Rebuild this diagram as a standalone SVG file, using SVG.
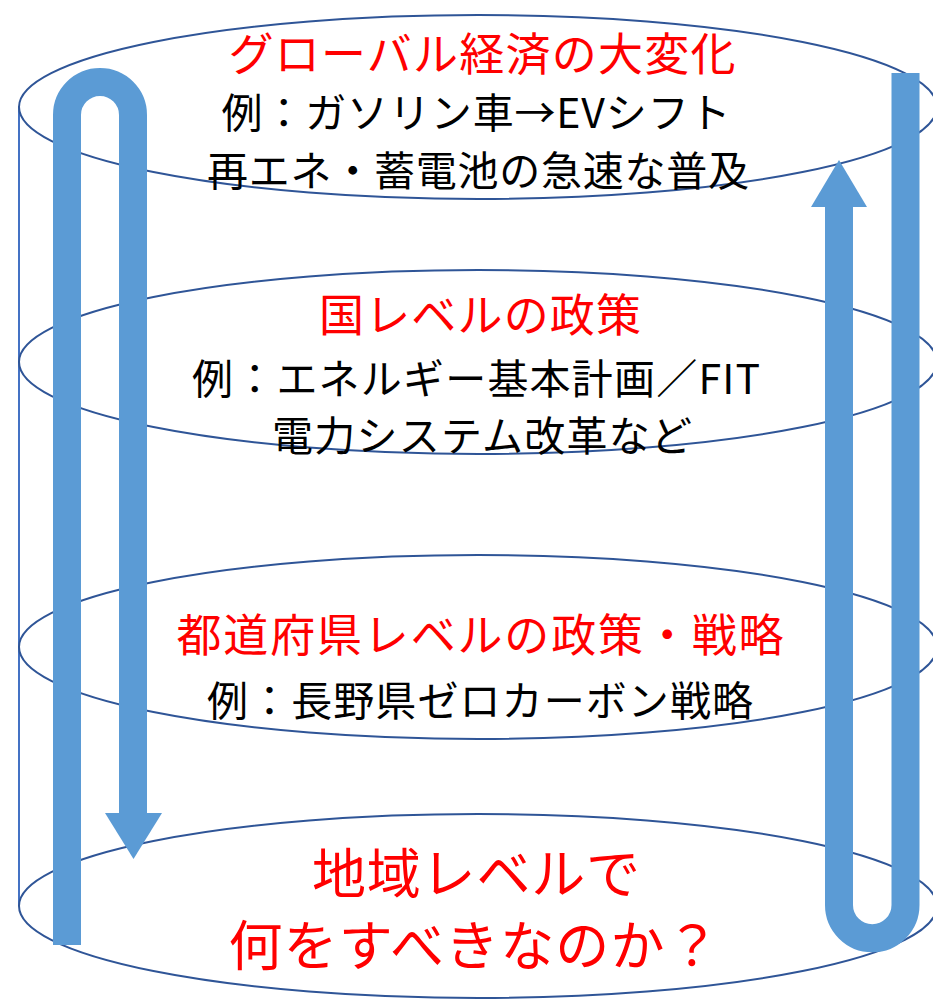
<svg xmlns="http://www.w3.org/2000/svg" width="933" height="1000" viewBox="0 0 933 1000">
<style>
.layer{fill:#ffffff;stroke:#2F5597;stroke-width:2}
.side{stroke:#4472C4;stroke-width:2;fill:none}
.t{font-family:"Noto Sans CJK JP","Noto Sans CJK SC",sans-serif;text-anchor:middle}
.red{fill:#FF0000;font-size:45px}
.blk{fill:#000000;font-size:41px}
.big{fill:#FF0000;font-size:54px}
.arr{fill:none;stroke:#5B9BD5;stroke-width:28;stroke-linecap:butt}
.head{fill:#5B9BD5}
</style>
<rect width="933" height="1000" fill="#ffffff"/>
<line class="side" x1="19" y1="107" x2="19" y2="906"/>
<g id="node-global">
<ellipse class="layer" cx="478" cy="107" rx="459" ry="92"/>
<text class="t red" x="482" y="71" textLength="507">グローバル経済の大変化</text>
<text class="t blk" x="476" y="128" textLength="509">例：ガソリン車→EVシフト</text>
<text class="t blk" x="478" y="186" textLength="542">再エネ・蓄電池の急速な普及</text>
</g>
<g id="node-national">
<ellipse class="layer" cx="478" cy="362" rx="459" ry="92"/>
<text class="t red" x="480" y="332" textLength="322">国レベルの政策</text>
<text class="t blk" x="476" y="394" textLength="568">例：エネルギー基本計画／FIT</text>
<text class="t blk" x="482" y="451" textLength="420">電力システム改革など</text>
</g>
<g id="node-prefecture">
<ellipse class="layer" cx="478" cy="647" rx="459" ry="92"/>
<text class="t red" x="480" y="652" textLength="607">都道府県レベルの政策・戦略</text>
<text class="t blk" x="480" y="716" textLength="546">例：長野県ゼロカーボン戦略</text>
</g>
<g id="node-local">
<ellipse class="layer" cx="478" cy="906" rx="459" ry="92"/>
<text class="t big" x="476" y="894" textLength="328">地域レベルで</text>
<text class="t big" x="474" y="966" textLength="491">何をすべきなのか？</text>
</g>
<g id="connectors">
<path class="arr" d="M67,945 V115 A33,33 0 0 1 133,115 V814"/>
<polygon class="head" points="105,813 162,813 133.5,859"/>
<path class="arr" d="M905.5,73 V905 A33.25,33.25 0 0 1 839,905 V206"/>
<polygon class="head" points="811,207 867,207 839,160"/>
</g>
</svg>
